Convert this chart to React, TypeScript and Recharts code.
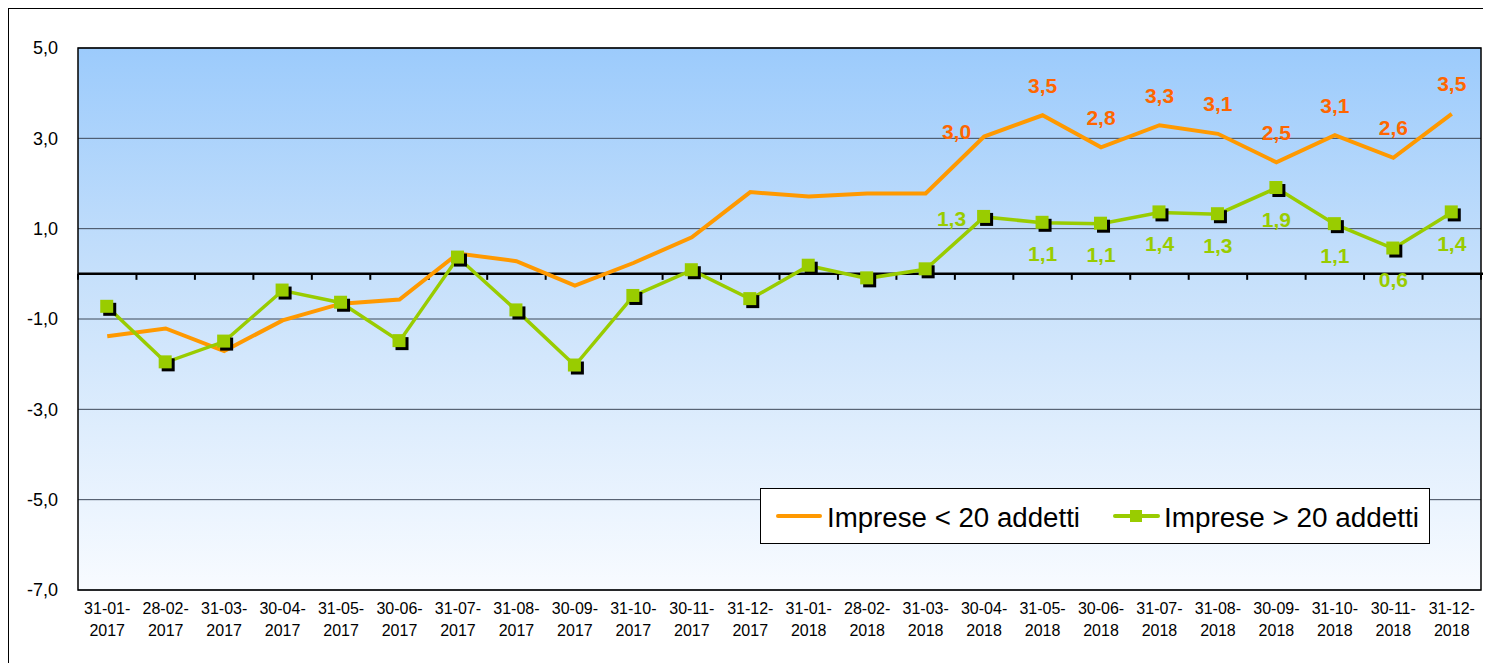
import React from "react";
import {
  LineChart,
  Line,
  XAxis,
  YAxis,
  CartesianGrid,
  ReferenceLine,
  ReferenceArea,
  LabelList,
  Legend,
} from "recharts";

const categories = [
  "31-01-2017", "28-02-2017", "31-03-2017", "30-04-2017", "31-05-2017", "30-06-2017",
  "31-07-2017", "31-08-2017", "30-09-2017", "31-10-2017", "30-11-2017", "31-12-2017",
  "31-01-2018", "28-02-2018", "31-03-2018", "30-04-2018", "31-05-2018", "30-06-2018",
  "31-07-2018", "31-08-2018", "30-09-2018", "31-10-2018", "30-11-2018", "31-12-2018",
];

const small = [
  -1.38, -1.21, -1.71, -1.03, -0.66, -0.57, 0.45, 0.28, -0.26, 0.24, 0.81, 1.81,
  1.71, 1.78, 1.78, 3.04, 3.51, 2.8, 3.29, 3.1, 2.47, 3.07, 2.57, 3.54,
];

const large = [
  -0.73, -1.96, -1.5, -0.37, -0.64, -1.49, 0.36, -0.81, -2.03, -0.49, 0.08, -0.56,
  0.18, -0.1, 0.1, 1.26, 1.13, 1.11, 1.36, 1.32, 1.9, 1.1, 0.56, 1.36,
];

const yTicks = [5, 3, 1, -1, -3, -5, -7];

const seriesNames = ["Imprese < 20 addetti", "Imprese > 20 addetti"];

// labels are only shown from 30-04-2018 onwards
const LABEL_FROM = 15;

const data = categories.map((c, i) => ({ date: c, small: small[i], large: large[i] }));

const FONT = "'Liberation Sans', Arial, sans-serif";
const ORANGE = "#FF9900";
const ORANGE_TXT = "#FF6600";
const GREEN = "#99CC00";

const fmt = (v: number) => v.toFixed(1).replace(".", ",");

function XTick(props: any) {
  const { x, y, payload } = props;
  const s: string = payload.value;
  return (
    <text textAnchor="middle" fontSize={16} fontFamily={FONT} fill="#000">
      <tspan x={x} y={y + 24}>{s.slice(0, 6)}</tspan>
      <tspan x={x} y={y + 46}>{s.slice(6)}</tspan>
    </text>
  );
}

function GreenDot(props: any) {
  const { cx, cy } = props;
  if (cx == null || cy == null) return null;
  return (
    <g>
      <rect x={cx - 4} y={cy - 4} width={13} height={13} fill="#000" />
      <rect x={cx - 7} y={cy - 7} width={13} height={13} fill={GREEN} />
    </g>
  );
}

function SmallLabel(props: any) {
  const { x, y, value, index } = props;
  if (index < LABEL_FROM) return null;
  const first = index === LABEL_FROM;
  return (
    <text
      x={first ? x - 13 : x}
      y={first ? y - 5 : y - 30}
      textAnchor={first ? "end" : "middle"}
      dominantBaseline="central"
      fontSize={21}
      fontWeight="bold"
      fontFamily={FONT}
      fill={ORANGE_TXT}
    >
      {fmt(value)}
    </text>
  );
}

function LargeLabel(props: any) {
  const { x, y, value, index } = props;
  if (index < LABEL_FROM) return null;
  const first = index === LABEL_FROM;
  return (
    <text
      x={first ? x - 18 : x}
      y={first ? y + 2 : y + 31}
      textAnchor={first ? "end" : "middle"}
      dominantBaseline="central"
      fontSize={21}
      fontWeight="bold"
      fontFamily={FONT}
      fill={GREEN}
    >
      {fmt(value)}
    </text>
  );
}

function ZeroLine(props: any) {
  const { x1, y1, x2, y2 } = props;
  if (x1 == null) return null;
  const n = categories.length;
  const step = (x2 - x1) / n;
  return (
    <g>
      <line x1={x1} y1={y1} x2={x2 + 3} y2={y2} stroke="#000" strokeWidth={2.5} />
      {Array.from({ length: n + 1 }, (_, k) => (
        <line
          key={k}
          x1={x1 + k * step}
          x2={x1 + k * step}
          y1={y1}
          y2={y1 + 6}
          stroke="#000"
          strokeWidth={2}
        />
      ))}
    </g>
  );
}

function LegendBox() {
  return (
    <div
      style={{
        width: 670,
        height: 56,
        boxSizing: "border-box",
        border: "1px solid #000",
        background: "#fff",
      }}
    >
      <svg width={668} height={54} style={{ display: "block" }}>
        <line x1={17} x2={59} y1={27} y2={27} stroke={ORANGE} strokeWidth={4} strokeLinecap="round" />
        <text x={66} y={38} fontSize={27} fontFamily={FONT} textLength={253} lengthAdjust="spacingAndGlyphs">
          {seriesNames[0]}
        </text>
        <line x1={354} x2={397} y1={27} y2={27} stroke={GREEN} strokeWidth={4} strokeLinecap="round" />
        <rect x={369} y={21} width={12} height={12} fill={GREEN} />
        <text x={403} y={38} fontSize={27} fontFamily={FONT} textLength={255} lengthAdjust="spacingAndGlyphs">
          {seriesNames[1]}
        </text>
      </svg>
    </div>
  );
}

export default function App() {
  return (
    <div
      style={{
        width: 1500,
        height: 700,
        border: "1px solid #000",
        boxSizing: "border-box",
        position: "relative",
        background: "#fff",
      }}
    >
      <style>{`body{overflow:hidden;}`}</style>
      <LineChart
        width={1490}
        height={660}
        data={data}
        margin={{ top: 39, right: 0, bottom: 29, left: 0 }}
      >
        <defs>
          <linearGradient id="plotBg" x1="0" y1="0" x2="0" y2="1">
            <stop offset="0%" stopColor="#9CCBFC" />
            <stop offset="42%" stopColor="#C6E0FB" />
            <stop offset="100%" stopColor="#F8FBFF" />
          </linearGradient>
        </defs>
        <CartesianGrid vertical={false} stroke="#3d4858" strokeWidth={1} fill="url(#plotBg)" />
        <XAxis
          dataKey="date"
          scale="band"
          interval={0}
          height={50}
          tickSize={0}
          tickMargin={0}
          axisLine={false}
          tickLine={false}
          tick={<XTick />}
        />
        <YAxis
          domain={[-7, 5]}
          ticks={yTicks}
          width={69}
          tickSize={0}
          tickMargin={20}
          axisLine={false}
          tickLine={false}
          tickFormatter={(v) => fmt(Number(v))}
          tick={{ fontSize: 18, fontFamily: FONT, fill: "#000" }}
        />
        <YAxis
          yAxisId="right"
          orientation="right"
          domain={[-7, 5]}
          ticks={yTicks}
          width={18}
          tickSize={5}
          axisLine={false}
          tickLine={{ stroke: "#3d4858" }}
          tickFormatter={() => ""}
        />
        <ReferenceArea y1={-7} y2={5} fill="none" stroke="#000" strokeWidth={1.5} />
        <ReferenceLine y={0} shape={<ZeroLine />} />
        <Line
          type="linear"
          dataKey="small"
          name={seriesNames[0]}
          stroke={ORANGE}
          strokeWidth={4}
          dot={false}
          activeDot={false}
          isAnimationActive={false}
        >
          <LabelList dataKey="small" content={<SmallLabel />} />
        </Line>
        <Line
          type="linear"
          dataKey="large"
          name={seriesNames[1]}
          stroke={GREEN}
          strokeWidth={3.5}
          dot={<GreenDot />}
          activeDot={false}
          isAnimationActive={false}
        >
          <LabelList dataKey="large" content={<LargeLabel />} />
        </Line>
        <Legend
          layout="horizontal"
          verticalAlign="middle"
          align="center"
          content={<LegendBox />}
          wrapperStyle={{ left: 751, top: 479, width: 670, height: 56 }}
        />
      </LineChart>
    </div>
  );
}
